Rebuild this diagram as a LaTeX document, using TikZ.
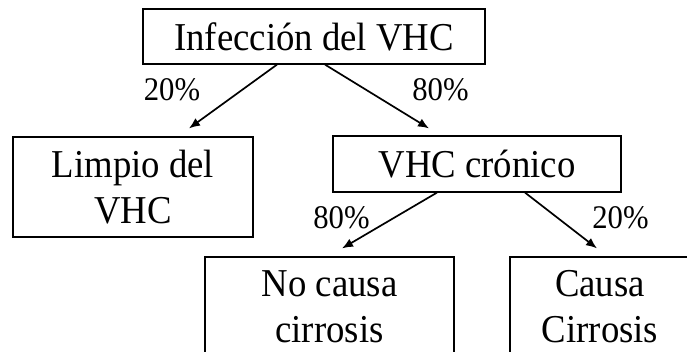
\documentclass[tikz,border=0pt]{standalone}
\usepackage{fontspec}
\setmainfont{Liberation Serif}[FakeStretch=0.93]
\usetikzlibrary{arrows.meta}

\begin{document}
\begin{tikzpicture}[x=1pt,y=-1pt]
  \tikzset{box/.style={draw, line width=1.2pt, align=center, font=\fontsize{39.5}{46}\selectfont} }
  \tikzset{pct/.style={font=\fontsize{33}{38}\selectfont} }
  \tikzset{conn/.style={-{Latex[length=11pt,width=9pt]}, line width=1.7pt} }

  \clip (0,0) rectangle (687,352);

  \node[box, minimum width=342pt, minimum height=55pt] (inf) at (314,36.5) {Infección del VHC};

  \node[box, minimum width=240pt, minimum height=100pt] (limpio) at (133,187) {Limpio del\\VHC};
  \node[box, minimum width=288pt, minimum height=56pt] (cronico) at (477,164) {VHC crónico};

  \node[box, minimum width=249pt, minimum height=100pt] (nocausa) at (329.5,307) {No causa\\cirrosis};
  \node[box, minimum width=180pt, minimum height=100pt] (causa) at (600,307) {Causa\\Cirrosis};

  \node[pct] (p20a) at (172,89.5) {20\%};
  \node[pct] (p80a) at (440.5,89.5) {80\%};
  \node[pct] (p80b) at (341.5,218) {80\%};
  \node[pct] (p20b) at (620.5,218) {20\%};

  \draw[conn] ([xshift=-37pt]inf.south) -- ([xshift=56pt,yshift=8pt]limpio.north);
  \draw[conn] ([xshift=11pt]inf.south) -- ([xshift=-48pt,yshift=7pt]cronico.north);
  \draw[conn] ([xshift=-40pt]cronico.south) -- ([xshift=12.5pt,yshift=8pt]nocausa.north);
  \draw[conn] ([xshift=48pt]cronico.south) -- ([xshift=-3pt,yshift=8pt]causa.north);
\end{tikzpicture}
\end{document}
